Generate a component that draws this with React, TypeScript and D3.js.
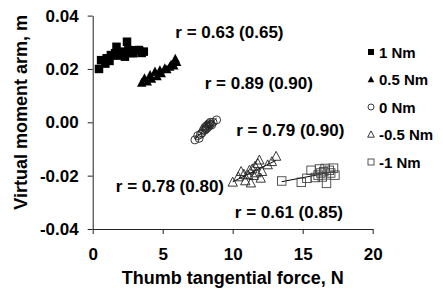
import React, { useEffect, useRef } from 'react';
import * as d3 from 'd3';

// torque conditions, in legend order
const conditions = ['1 Nm', '0.5 Nm', '0 Nm', '-0.5 Nm', '-1 Nm'];

const force1 = [0.45, 0.6, 0.9, 1.0, 1.2, 1.3, 1.6, 1.7, 1.8, 2.1, 2.3, 2.45, 2.55, 2.7, 2.9, 3.0, 3.3, 3.5, 3.65];
const arm1 = [0.020, 0.0233, 0.022, 0.024, 0.023, 0.0252, 0.0259, 0.0283, 0.025, 0.0265, 0.0246, 0.0302, 0.0271, 0.026, 0.0259, 0.027, 0.0271, 0.026, 0.0265];

const force05 = [3.5, 3.7, 3.9, 4.1, 4.2, 4.45, 4.6, 4.8, 4.9, 5.15, 5.3, 5.5, 5.6, 5.8, 5.9, 6.0];
const arm05 = [0.0148, 0.0165, 0.0152, 0.0177, 0.0163, 0.019, 0.0172, 0.0195, 0.0183, 0.0202, 0.0198, 0.0208, 0.0215, 0.0212, 0.0238, 0.0225];

const force0 = [7.3, 7.5, 7.6, 7.7, 7.8, 7.9, 8.0, 8.0, 8.1, 8.1, 8.2, 8.2, 8.3, 8.3, 8.4, 8.4, 8.5, 8.6, 8.85];
const arm0 = [-0.0066, -0.005, -0.006, -0.0045, -0.004, -0.003, -0.003, -0.002, -0.0025, -0.0015, -0.001, -0.002, -0.0005, -0.0015, 0.0, -0.0008, -0.001, 0.0, 0.0009];

const forceM05 = [10.0, 10.4, 10.6, 10.8, 10.9, 11.1, 11.2, 11.3, 11.4, 11.5, 11.6, 11.7, 11.8, 11.9, 12.0, 12.1, 12.5, 12.8, 13.1];
const armM05 = [-0.0225, -0.0205, -0.0185, -0.0195, -0.022, -0.0198, -0.018, -0.0228, -0.0175, -0.02, -0.0165, -0.019, -0.0155, -0.0142, -0.021, -0.0185, -0.016, -0.0148, -0.0128];

const forceM1 = [13.5, 14.9, 15.3, 15.6, 15.9, 16.1, 16.2, 16.3, 16.4, 16.5, 16.6, 16.7, 16.9, 17.0, 17.2, 17.3];
const armM1 = [-0.022, -0.0225, -0.021, -0.018, -0.0207, -0.0198, -0.0175, -0.019, -0.0205, -0.0185, -0.0173, -0.0229, -0.018, -0.019, -0.0172, -0.0198];

const forces = [force1, force05, force0, forceM05, forceM1];
const arms = [arm1, arm05, arm0, armM05, armM1];

// correlation labels, anchored in data units (left edge, middle)
const rLabels = ['r = 0.63 (0.65)', 'r = 0.89 (0.90)', 'r = 0.79 (0.90)', 'r = 0.78 (0.80)', 'r = 0.61 (0.85)'];
const rLabelX = [5.9, 8.0, 10.25, 1.65, 10.15];
const rLabelY = [0.0335, 0.0147, -0.003, -0.024, -0.034];

const xTicks = [0, 5, 10, 15, 20];
const yTicks = [-0.04, -0.02, 0, 0.02, 0.04];

const FONT = "'Liberation Sans', Arial, sans-serif";

const App: React.FC = () => {
  const ref = useRef<SVGSVGElement | null>(null);

  useEffect(() => {
    const svg = d3.select(ref.current);
    svg.selectAll('*').remove();

    const x = d3.scaleLinear().domain([0, 20]).range([92.7, 372.7]);
    const y = d3.scaleLinear().domain([-0.04, 0.04]).range([229, 15.6]);

    // axes (plain hyphen for negatives, like the original)
    const fmtY = (d: d3.NumberValue) => (+d).toFixed(2);
    const xAxis = svg.append('g')
      .attr('transform', `translate(0,${y(-0.04)})`)
      .call(d3.axisBottom(x).tickValues(xTicks).tickSize(5).tickSizeOuter(0).tickPadding(14).tickFormat((d) => String(d)));
    const yAxis = svg.append('g')
      .attr('transform', `translate(${x(0)},0)`)
      .call(d3.axisLeft(y).tickValues(yTicks).tickSize(5).tickSizeOuter(0).tickPadding(9).tickFormat(fmtY));

    [xAxis, yAxis].forEach((g) => {
      g.select('.domain').attr('stroke', '#222');
      g.selectAll('.tick line').attr('stroke', '#222');
      g.selectAll('.tick text')
        .attr('fill', '#000')
        .style('font-family', FONT)
        .style('font-size', '17px')
        .style('font-weight', 'bold');
    });

    // regression lines
    forces.forEach((fx, i) => {
      const ay = arms[i];
      const mx = d3.mean(fx)!;
      const my = d3.mean(ay)!;
      const sxy = d3.sum(fx, (v, j) => (v - mx) * (ay[j] - my));
      const sxx = d3.sum(fx, (v) => (v - mx) * (v - mx));
      const b = sxy / sxx;
      const [x0, x1] = d3.extent(fx) as [number, number];
      svg.append('line')
        .attr('x1', x(x0)).attr('y1', y(my + b * (x0 - mx)))
        .attr('x2', x(x1)).attr('y2', y(my + b * (x1 - mx)))
        .attr('stroke', '#000')
        .attr('stroke-width', 1);
    });

    const tri = (s: number) => `M0,${-s * 0.6}L${s * 0.55},${s * 0.45}L${-s * 0.55},${s * 0.45}Z`;

    const drawMarker = (g: d3.Selection<SVGGElement, unknown, null, undefined>, k: number, s: number) => {
      if (k === 0) {
        g.append('rect').attr('x', -s / 2).attr('y', -s / 2).attr('width', s).attr('height', s).attr('fill', '#000');
      } else if (k === 1) {
        g.append('path').attr('d', tri(s)).attr('fill', '#000');
      } else if (k === 2) {
        g.append('circle').attr('r', s / 2).attr('fill', 'none').attr('stroke', '#222').attr('stroke-width', 0.9);
      } else if (k === 3) {
        g.append('path').attr('d', tri(s)).attr('fill', 'none').attr('stroke', '#222').attr('stroke-width', 0.9);
      } else {
        g.append('rect').attr('x', -s / 2).attr('y', -s / 2).attr('width', s).attr('height', s)
          .attr('fill', 'none').attr('stroke', '#444').attr('stroke-width', 0.9);
      }
    };

    // points
    forces.forEach((fx, i) => {
      fx.forEach((v, j) => {
        const g = svg.append('g').attr('transform', `translate(${x(v)},${y(arms[i][j])})`);
        drawMarker(g, i, i === 2 ? 8 : 8.5);
      });
    });

    // r labels
    rLabels.forEach((t, i) => {
      svg.append('text')
        .attr('x', x(rLabelX[i]))
        .attr('y', y(rLabelY[i]))
        .attr('dominant-baseline', 'central')
        .style('font-family', FONT)
        .style('font-size', '17px')
        .style('font-weight', 'bold')
        .text(t);
    });

    // legend
    const legend = svg.append('g').attr('transform', 'translate(371,52)');
    conditions.forEach((c, i) => {
      const row = legend.append('g').attr('transform', `translate(0,${i * 27.5})`);
      drawMarker(row, i, 6);
      row.append('text')
        .attr('x', 8)
        .attr('dominant-baseline', 'central')
        .style('font-family', FONT)
        .style('font-size', '15px')
        .style('font-weight', 'bold')
        .text(c);
    });

    // axis titles
    svg.append('text')
      .attr('x', x(10))
      .attr('y', 284)
      .attr('text-anchor', 'middle')
      .style('font-family', FONT)
      .style('font-size', '18px')
      .style('font-weight', 'bold')
      .text('Thumb tangential force, N');

    svg.append('text')
      .attr('transform', `translate(27,${y(0) - 10}) rotate(-90)`)
      .attr('text-anchor', 'middle')
      .style('font-family', FONT)
      .style('font-size', '18px')
      .style('font-weight', 'bold')
      .text('Virtual moment arm, m');
  }, []);

  return (
    <svg
      ref={ref}
      width={443}
      height={292}
      style={{ position: 'absolute', left: 0, top: 0, background: '#fff' }}
    />
  );
};

export default App;
